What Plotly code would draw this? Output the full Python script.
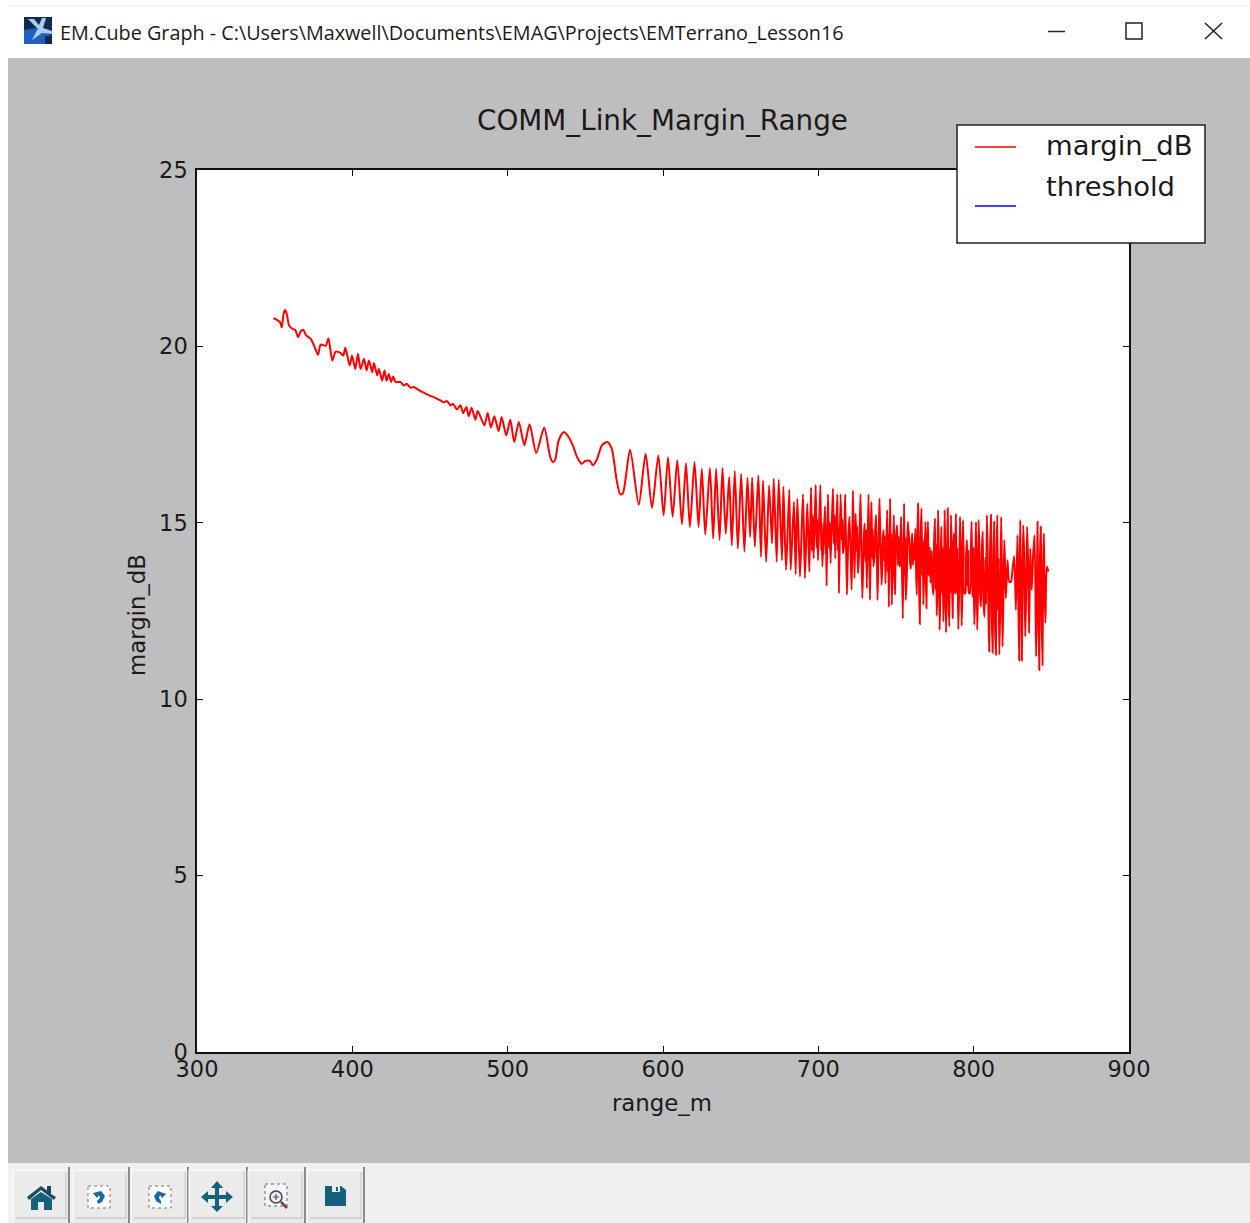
import plotly.graph_objects as go

# ---------- data ----------
range_m = [
349.2,352.2,353.5,354.6,355.7,356.7,357.8,359.3,361.4,363.2,365.1,366.8,368.5,370.0,373.2,375.4,377.9,379.6,382.9,384.6,
387.1,389.3,392.5,394.2,395.5,398.3,399.8,401.9,403.6,405.3,407.5,409.2,410.7,412.8,413.9,416.0,417.1,419.2,420.7,422.0,
423.5,425.0,426.3,427.8,431.0,433.2,434.9,437.4,439.6,443.9,448.1,452.4,456.7,458.9,461.0,463.1,464.9,467.4,469.6,471.3,
473.4,474.9,476.8,479.2,480.7,485.0,487.1,489.2,491.4,494.2,496.1,499.1,501.7,504.2,507.2,510.7,514.1,518.4,523.5,527.4,
529.1,530.6,532.8,536.0,538.5,542.0,544.5,547.7,549.9,553.1,554.8,557.4,560.6,564.2,567.0,570.2,572.4,574.1,578.8,584.4,
588.8,592.9,597.0,600.4,603.2,606.2,609.2,612.2,614.8,617.3,620.3,622.9,625.0,627.2,630.2,632.3,634.2,636.4,638.3,640.4,
642.6,644.3,646.2,648.2,650.3,652.4,654.4,656.1,657.4,659.1,661.4,663.1,664.4,666.4,668.3,670.2,671.3,673.2,674.5,676.6,
677.5,679.2,681.3,682.2,684.3,685.4,686.5,688.2,690.1,691.4,692.9,694.2,695.3,697.0,698.3,699.8,701.3,702.6,704.3,705.3,
706.2,707.9,709.4,710.9,712.2,713.3,714.3,715.8,717.3,718.4,720.1,721.4,722.3,723.3,724.0,725.5,727.2,728.3,729.8,731.2,
732.3,733.2,734.2,735.5,737.2,738.1,739.4,740.7,742.0,743.2,744.3,745.4,746.2,747.3,748.6,749.4,750.7,752.2,753.3,754.4,
755.2,756.3,757.6,759.1,760.4,761.7,762.5,763.4,764.2,765.3,766.4,767.6,768.9,769.6,770.6,772.6,774.1,775.1,776.2,777.1,
778.1,779.2,780.5,781.3,782.2,783.3,784.3,785.4,786.5,787.3,788.6,790.1,791.2,792.3,793.1,794.6,795.7,797.0,798.7,800.4,
801.5,802.3,803.2,804.7,805.8,807.0,808.5,810.0,811.1,812.2,813.2,814.3,815.2,816.5,817.7,818.6,819.7,820.7,821.8,822.9,
824.0,825.0,826.1,827.2,828.2,829.3,830.0,831.0,831.9,833.2,834.4,835.7,836.4,837.4,839.2,840.2,841.1,842.2,843.2,844.3,
845.2,846.2,847.1,848.1,
]
margin_dB = [
20.80,20.73,20.68,20.54,20.92,21.03,20.92,20.59,20.50,20.47,20.26,20.43,20.47,20.33,20.21,20.02,19.76,20.05,20.02,20.23,
19.60,19.85,19.81,19.74,19.96,19.46,19.74,19.36,19.79,19.36,19.65,19.32,19.60,19.27,19.53,19.18,19.36,19.03,19.32,19.03,
19.22,18.99,19.15,18.99,18.99,18.89,18.94,18.83,18.85,18.73,18.64,18.56,18.47,18.42,18.45,18.33,18.37,18.21,18.33,18.11,
18.28,18.02,18.26,17.92,18.17,17.76,18.11,17.70,18.02,17.60,18.00,17.48,17.92,17.29,17.86,17.20,17.79,16.98,17.70,16.86,
16.72,16.79,17.33,17.57,17.48,17.19,16.88,16.67,16.75,16.75,16.63,16.79,17.19,17.29,17.10,16.20,15.81,15.83,17.07,15.51,
16.96,15.42,16.91,15.21,16.86,15.17,16.77,14.96,16.69,14.88,16.72,14.88,16.53,14.67,16.55,14.55,16.53,14.51,16.55,14.69,
16.30,14.36,16.47,14.27,16.39,14.18,16.28,14.60,16.28,14.32,16.34,14.03,16.20,13.89,16.06,14.41,16.25,13.89,16.22,13.94,
16.03,13.66,15.94,13.66,15.59,13.54,15.68,13.47,15.81,13.43,15.55,13.61,16.00,13.99,16.07,13.94,16.07,13.76,15.47,13.21,
15.81,13.85,15.97,13.99,15.81,13.00,15.81,14.13,15.81,12.96,15.17,13.10,15.91,13.43,15.26,13.57,15.81,12.86,14.98,13.14,
15.81,12.81,15.59,13.76,15.22,12.81,15.69,13.24,14.79,13.28,15.36,12.61,15.69,12.67,15.22,12.96,14.93,13.76,15.17,12.28,
15.55,12.81,15.03,13.85,14.70,13.94,14.84,12.96,15.55,12.13,15.41,12.67,15.03,12.58,15.03,14.04,12.96,15.12,12.37,15.36,
11.96,14.89,12.20,15.36,11.89,15.41,12.06,15.22,12.30,14.70,15.26,11.98,15.17,12.08,15.08,13.00,14.51,13.00,15.03,12.11,
15.03,11.96,15.08,12.62,14.75,12.34,15.22,11.35,15.22,11.32,15.03,11.26,15.22,11.26,15.17,11.49,14.51,12.86,13.94,13.33,
13.33,13.66,14.06,12.53,14.65,11.10,15.08,11.10,14.93,11.78,14.89,11.87,14.27,13.10,14.65,11.21,15.03,10.83,14.89,10.97,
14.70,12.17,13.76,13.62,
]
# ripple inside the solid part of the band
ripple_range_m = [
695.9,696.4,698.9,699.3,701.9,702.2,704.7,705.0,706.9,707.4,710.0,710.5,712.6,713.0,715.1,715.5,716.6,717.0,718.9,719.5,
721.8,722.0,724.6,725.0,726.2,726.7,728.9,729.3,730.4,730.8,733.6,733.9,734.7,735.1,736.2,736.7,738.6,739.0,741.2,741.6,
742.6,742.9,744.7,745.0,746.6,747.0,749.0,749.9,751.2,751.7,752.6,753.0,755.6,756.0,757.0,758.5,759.6,760.0,761.0,761.4,
762.9,763.8,764.8,765.8,766.9,767.3,769.2,770.1,771.0,771.8,772.2,773.0,773.5,774.5,775.5,775.9,776.6,777.5,778.5,778.9,
779.6,780.0,780.9,781.7,782.7,783.0,783.8,784.7,785.0,785.9,786.2,786.9,787.8,788.2,789.0,789.5,790.6,791.7,792.7,793.5,
794.0,795.1,796.2,796.6,797.5,798.2,799.2,799.9,800.9,801.2,802.7,803.7,804.2,805.2,806.3,807.5,808.0,809.0,809.5,810.5,
811.6,812.7,813.6,814.7,815.7,816.0,817.1,818.1,819.1,820.2,828.7,829.7,830.4,830.7,831.4,832.5,833.8,835.0,836.9,838.3,
840.6,840.9,841.6,842.7,843.7,844.8,845.7,
]
ripple_margin_dB = [
14.2,15.2,14.3,15.1,14.2,15.0,14.1,14.9,14.3,15.0,14.4,15.2,14.2,14.9,14.5,15.1,14.4,15.2,13.9,14.8,
14.2,15.0,14.2,14.9,14.1,15.0,13.8,14.6,13.9,14.8,13.9,14.9,14.0,14.8,14.1,14.9,13.9,14.8,13.8,14.6,
13.9,14.6,13.6,14.7,13.7,14.7,13.6,14.5,13.8,14.6,13.8,14.6,13.5,14.6,13.6,14.5,13.7,14.4,13.8,14.4,
13.7,14.6,13.5,14.5,13.5,14.5,13.5,14.5,13.5,14.3,13.3,14.2,13.2,14.4,13.1,14.4,13.0,14.4,13.0,14.2,
13.0,14.3,13.0,14.3,13.0,14.3,13.0,14.3,13.0,14.2,13.0,14.2,13.0,14.4,13.0,14.3,13.0,14.3,13.0,14.2,
13.0,14.1,13.2,14.2,13.0,14.2,12.9,14.3,12.9,14.2,12.9,14.2,12.9,14.1,12.8,14.0,12.7,14.1,12.5,14.1,
12.5,14.0,12.5,14.0,12.5,14.0,12.6,13.9,12.8,13.8,13.0,14.0,12.9,14.0,12.9,14.1,13.0,14.0,13.5,14.1,
12.9,14.0,12.6,14.0,12.5,13.9,13.0,
]
threshold_x = []
threshold_y = []
x_ticks = [300, 400, 500, 600, 700, 800, 900]
y_ticks = [0, 5, 10, 15, 20, 25]
chart_title = "COMM_Link_Margin_Range"
window_title = "EM.Cube Graph - C:\\Users\\Maxwell\\Documents\\EMAG\\Projects\\EMTerrano_Lesson16"
series_names = ["margin_dB", "threshold"]

merged = sorted(zip(range_m + ripple_range_m, margin_dB + ripple_margin_dB))
line_x = [p[0] for p in merged]
line_y = [p[1] for p in merged]

# ---------- layout geometry (page pixels) ----------
W, H = 1250, 1223
L, R, T, B = 197, 1129, 170, 1052
def X(p): return (p - L) / (R - L)
def Y(p): return (B - p) / (B - T)

shapes = []
def rect(x0, y0, x1, y1, fill=None, line=None, lw=0, layer="above", dash=None):
    ln = dict(color=line or "rgba(0,0,0,0)", width=lw)
    if dash: ln["dash"] = dash
    shapes.append(dict(type="rect", xref="paper", yref="paper", x0=X(x0), x1=X(x1), y0=Y(y0), y1=Y(y1),
                       fillcolor=fill or "rgba(0,0,0,0)", line=ln, layer=layer))
def seg(x0, y0, x1, y1, color, lw=1, layer="above"):
    shapes.append(dict(type="line", xref="paper", yref="paper", x0=X(x0), x1=X(x1), y0=Y(y0), y1=Y(y1),
                       line=dict(color=color, width=lw), layer=layer))
def poly(pts, fill=None, line=None, lw=0, closed=True):
    d = "M" + " L".join(f"{X(a):.5f},{Y(b):.5f}" for a, b in pts) + (" Z" if closed else "")
    shapes.append(dict(type="path", xref="paper", yref="paper", path=d,
                       fillcolor=fill or "rgba(0,0,0,0)",
                       line=dict(color=line or "rgba(0,0,0,0)", width=lw), layer="above"))

# window chrome
rect(0, 0, 8, H, "#ffffff", layer="below")
rect(8, 6, W, 58, "#ffffff", layer="below")
rect(0, 0, W, 5, "#ffffff", layer="below")
seg(8, 5.5, W, 5.5, "#f0f0f0", 1, "below")
rect(8, 1163, W, H, "#f0f0f0", layer="below")
# app icon
rect(24, 17, 52, 44, "#14294f", layer="below")
poly([(24, 30), (36, 28), (52, 36), (52, 44), (24, 44)], "#1f5fc0")
poly([(38, 29), (28, 19), (34, 19), (39, 25), (42, 18), (46, 18), (43, 28), (52, 31), (52, 34), (42, 33), (32, 40), (36, 32)], "#a9cdf0")
rect(45, 36, 52, 44, "#16294c")
# window buttons
seg(1048, 31.5, 1065, 31.5, "#222222", 1.5)
rect(1126, 23, 1142, 39, None, "#222222", 1.5)
seg(1205, 23, 1222, 39, "#222222", 1.5)
seg(1222, 23, 1205, 39, "#222222", 1.5)

# toolbar buttons
for a, b in [(13, 68), (73, 128), (131, 187), (189, 246), (248, 304), (307, 363)]:
    rect(a, 1170, b, 1223, "#ebebeb", layer="below")
    seg(a, 1170, b, 1170, "#ffffff", 1, "below")
    seg(a, 1170, a, 1223, "#ffffff", 1, "below")
    seg(b + 1, 1167, b + 1, 1223, "#8a8a8a", 2, "below")
    seg(b - 2, 1172, b - 2, 1219, "#c4c4c4", 1, "below")
    seg(a + 3, 1218, b - 2, 1218, "#b8b8b8", 1, "below")
ICON = "#14607f"
# home
poly([(27, 1197), (41, 1186), (47, 1190.5), (47, 1186), (51, 1186), (51, 1194), (56, 1197), (54, 1200), (41, 1190), (29, 1200)], "#1b4a60")
poly([(31, 1199), (41, 1192), (52, 1199), (52, 1210), (44, 1210), (44, 1202), (38, 1202), (38, 1210), (31, 1210)], ICON)
# back / forward
for a in (88, 149):
    rect(a, 1186, a + 22, 1208, "#ffffff", "#777777", 1, dash="dot")
cx = 99
poly([(cx - 6, 1193), (cx + 2, 1191), (cx + 6, 1196), (cx + 3, 1202), (cx - 1, 1204), (cx - 2, 1201), (cx + 1, 1198), (cx, 1195), (cx - 2, 1198)], "#1768a8")
cx = 160
poly([(cx + 6, 1194), (cx - 2, 1191), (cx - 6, 1196), (cx - 4, 1201), (cx + 1, 1204), (cx + 1, 1201), (cx - 1, 1198), (cx, 1195), (cx + 2, 1198)], "#1768a8")
# pan arrows
poly([(217, 1181), (223, 1188), (219, 1188), (219, 1195), (226, 1195), (226, 1191), (233, 1197), (226, 1203), (226, 1199),
      (219, 1199), (219, 1206), (223, 1206), (217, 1212), (211, 1206), (215, 1206), (215, 1199), (208, 1199), (208, 1203),
      (201, 1197), (208, 1191), (208, 1195), (215, 1195), (215, 1188), (211, 1188)], ICON)
# zoom
rect(265, 1184, 287, 1206, "#f6f6f6", "#666666", 1, dash="dot")
shapes.append(dict(type="circle", xref="paper", yref="paper", x0=X(270), x1=X(282), y0=Y(1191), y1=Y(1203),
                   fillcolor="#e8eef0", line=dict(color="#3a4a50", width=1.5), layer="above"))
seg(273, 1197, 279, 1197, "#a03030", 1)
seg(276, 1194, 276, 1200, "#303030", 1)
seg(281, 1202, 287, 1208, "#7a3a3a", 2.5)
# save
poly([(325, 1186), (341, 1186), (346, 1190), (346, 1206), (325, 1206)], ICON)
rect(332, 1186, 340, 1192, "#ebebeb")
rect(336, 1187, 338, 1191, ICON)

# legend box (sits over the plot corner)
rect(957, 125, 1205, 243, "#ffffff", "#222222", 1.5)
seg(975, 147, 1016, 147, "#ff0000", 1.5)
seg(975, 206, 1016, 206, "#0000ff", 1.5)

FONT = "DejaVu Sans"
def note(x, y, text, size, family=FONT, color="#1a1a1a", xanchor="left", angle=0):
    return dict(xref="paper", yref="paper", x=X(x), y=Y(y), text=text, showarrow=False, xanchor=xanchor, yanchor="middle",
                font=dict(family=family, size=size, color=color), textangle=angle)

annotations = [
    note(58, 32, window_title, 19.8, "Open Sans", "#1a1a1a"),
    note(662, 120.5, chart_title, 27.8, xanchor="center"),
    note(1044, 145.5, series_names[0], 27.4),
    note(1044, 186.5, series_names[1], 27.4),
    note(662, 1103, "range_m", 22.8, xanchor="center"),
    note(137, 615, "margin_dB", 22.8, xanchor="center", angle=-90),
]

fig = go.Figure()
fig.add_trace(go.Scatter(x=line_x, y=line_y, mode="lines", name=series_names[0],
                         line=dict(color="#ff0000", width=2.0, simplify=False, shape="spline", smoothing=0.7)))
fig.add_trace(go.Scatter(x=threshold_x, y=threshold_y, mode="lines", name=series_names[1],
                         line=dict(color="#0000ff", width=1.3)))

axis = dict(showgrid=False, zeroline=False, showline=True, linecolor="#111111", linewidth=1.5,
            ticks="inside", ticklen=6, tickcolor="#111111", tickwidth=1, mirror="ticks",
            tickfont=dict(family=FONT, size=22.5, color="#1a1a1a"))
fig.update_layout(
    width=W, height=H, autosize=False, showlegend=False,
    margin=dict(l=L, r=W - R, t=T, b=H - B, pad=0),
    paper_bgcolor="#bebebe", plot_bgcolor="#ffffff",
    xaxis=dict(axis, range=[300, 900], tickvals=x_ticks, ticklabelstandoff=-4),
    yaxis=dict(axis, range=[0, 25], tickvals=y_ticks, ticklabelstandoff=3),
    shapes=shapes, annotations=annotations,
)
fig.write_html("out.html", config=dict(displayModeBar=False),
               post_script="document.body.style.margin='0';document.body.style.overflow='hidden';")
